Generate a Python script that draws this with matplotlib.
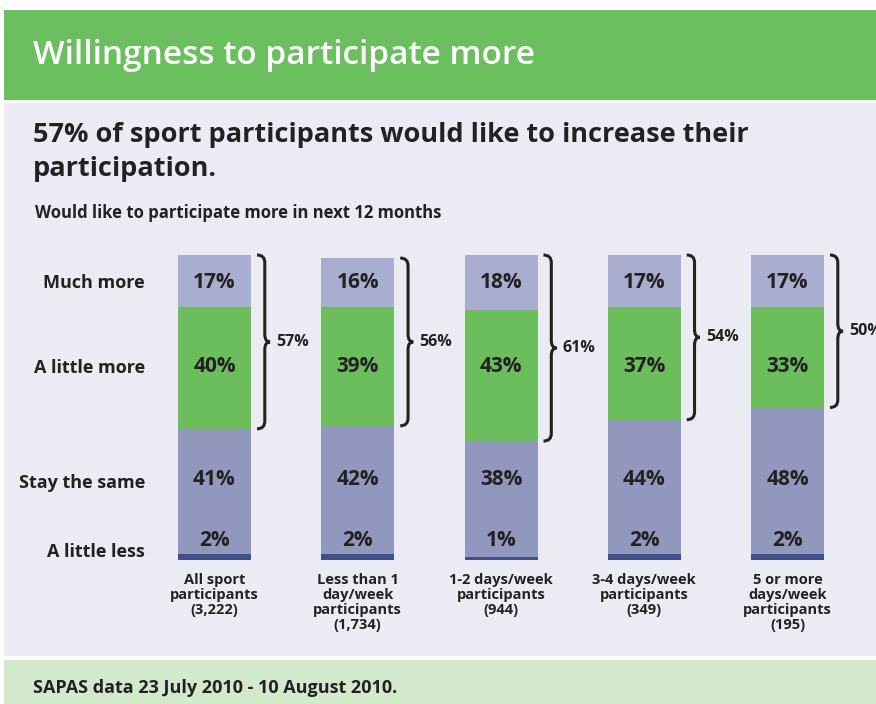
import matplotlib
matplotlib.use("Agg")
import matplotlib.pyplot as plt
from matplotlib.patches import Rectangle, PathPatch
from matplotlib.path import Path
import numpy as np

# data
groups = ["All sport\nparticipants\n(3,222)",
          "Less than 1\nday/week\nparticipants\n(1,734)",
          "1-2 days/week\nparticipants\n(944)",
          "3-4 days/week\nparticipants\n(349)",
          "5 or more\ndays/week\nparticipants\n(195)"]
rows = ["A little less", "Stay the same", "A little more", "Much more"]
little_less = [2, 2, 1, 2, 2]
stay_same = [41, 42, 38, 44, 48]
little_more = [40, 39, 43, 37, 33]
much_more = [17, 16, 18, 17, 17]
totals_more = [57, 56, 61, 54, 50]

W, H = 876, 704
plt.rcParams['font.family'] = ['Open Sans', 'DejaVu Sans']
fig = plt.figure(figsize=(W / 100, H / 100), dpi=100)
fig.patch.set_facecolor("white")

def fx(px):
    return px / W

def fy(py):
    return 1 - py / H

# background bands
for (top_px, bot_px, col) in [(10, 100, "#6cbf5e"), (103, 656, "#ebebf3"), (660, 706, "#d3e9cb")]:
    fig.patches.append(Rectangle((fx(4), fy(bot_px)), fx(W), (bot_px - top_px) / H,
                                 transform=fig.transFigure, facecolor=col,
                                 edgecolor="none", zorder=-10))

fig.text(fx(33), fy(55), "Willingness to participate more", color="white",
         fontsize=24, fontweight="semibold", va="center", ha="left")
fig.text(fx(33), fy(152), "57% of sport participants would like to increase their\nparticipation.",
         color="#222222", fontsize=19.5, fontweight="bold", va="center", ha="left",
         linespacing=1.35)
fig.text(fx(35), fy(213), "Would like to participate more in next 12 months", color="#222222",
         fontsize=12, fontweight="bold", va="center", ha="left")
fig.text(fx(33), fy(688), "SAPAS data 23 July 2010 - 10 August 2010.", color="#222222",
         fontsize=13, fontweight="bold", va="center", ha="left")

# chart axes: y 0..100 maps to px 560..255
bar_top, bar_bot = 255, 560
ax = fig.add_axes([0, fy(bar_bot), 1, (bar_bot - bar_top) / H])
ax.set_xlim((0 - 214.5) / 143.25, (W - 214.5) / 143.25)
ax.set_ylim(0, 100)
ax.axis("off")

x = np.arange(len(groups))
bw = 73 / 143.25
ll = np.array(little_less)
ss = np.array(stay_same)
lm = np.array(little_more)
mm = np.array(much_more)
ax.bar(x, ll, bw, color="#42508a", linewidth=0)
ax.bar(x, ss, bw, bottom=ll, color="#9297bd", linewidth=0)
ax.bar(x, lm, bw, bottom=ll + ss, color="#6cbe5c", linewidth=0)
ax.bar(x, mm, bw, bottom=ll + ss + lm, color="#a9adcf", linewidth=0)

def py2d(py):
    return (bar_bot - py) / (bar_bot - bar_top) * 100

row_y = [py2d(541), py2d(480), py2d(366), py2d(283)]
row_label_y = [py2d(552), py2d(483), py2d(368), py2d(283)]
series = [ll, ss, lm, mm]
for r in range(4):
    ax.text((145 - 214.5) / 143.25, row_label_y[r], rows[r], ha="right", va="center",
            fontsize=13, fontweight="bold", color="#222222")
    for i in range(len(groups)):
        ax.text(x[i], row_y[r], f"{series[r][i]}%", ha="center", va="center",
                fontsize=15, fontweight="bold", color="#222222")

for i in range(len(groups)):
    ax.text(x[i], -4.3, groups[i], ha="center", va="top", fontsize=10.5,
            fontweight="bold", color="#222222", linespacing=1.08)

# curly braces
def brace(ax, x0, y0, y1, w, h):
    ym = (y0 + y1) / 2
    xv = x0 + w * 0.6
    verts = [(x0, y1), (xv, y1), (xv, y1 - h),
             (xv, ym + h), (xv, ym), (x0 + w, ym),
             (xv, ym), (xv, ym - h),
             (xv, y0 + h), (xv, y0), (x0, y0)]
    codes = [Path.MOVETO, Path.CURVE3, Path.CURVE3,
             Path.LINETO, Path.CURVE3, Path.CURVE3,
             Path.CURVE3, Path.CURVE3,
             Path.LINETO, Path.CURVE3, Path.CURVE3]
    ax.add_patch(PathPatch(Path(verts, codes), facecolor="none", edgecolor="#222222",
                           linewidth=2.2, clip_on=False, capstyle="butt"))

top = ll + ss + lm + mm
low = ll + ss
for i in range(len(groups)):
    x0 = x[i] + bw / 2 + 6 / 143.25
    brace(ax, x0, low[i], top[i], 13 / 143.25, 2.5)
    ax.text(x0 + 19 / 143.25, (low[i] + top[i]) / 2, f"{totals_more[i]}%", ha="left",
            va="center", fontsize=11.5, fontweight="bold", color="#222222", clip_on=False)

fig.savefig("out.png", dpi=100)
